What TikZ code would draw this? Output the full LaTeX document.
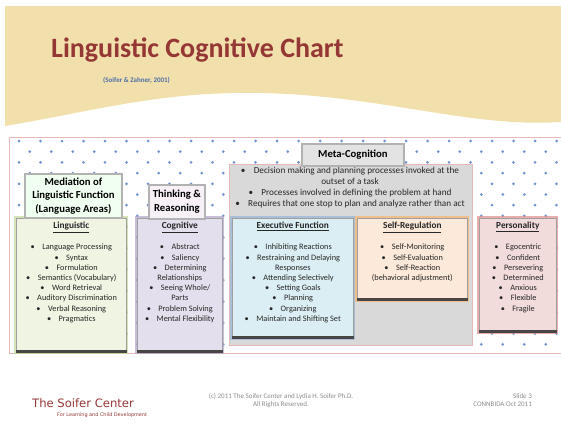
\documentclass[tikz,border=0pt]{standalone}
\usepackage{fontspec}
\setmainfont{Carlito}
\newfontfamily\piedefont{DejaVu Sans}
\usepackage{tikz}

\definecolor{banner}{HTML}{F1E0AC}
\definecolor{titolo}{HTML}{953735}
\definecolor{fonte}{HTML}{4F6EA8}
\definecolor{puntino}{HTML}{7093CF}
\definecolor{cornice}{HTML}{E6B9B8}
\definecolor{grigio}{HTML}{D9D9D9}
\definecolor{verde}{HTML}{F0F4E3}
\definecolor{verdeglow}{HTML}{C3D69B}
\definecolor{viola}{HTML}{E4DFEC}
\definecolor{violaglow}{HTML}{B3A2C7}
\definecolor{azzurro}{HTML}{DBEEF4}
\definecolor{azzurroglow}{HTML}{95B3D7}
\definecolor{pesca}{HTML}{FDE9D9}
\definecolor{pescaglow}{HTML}{F7B36B}
\definecolor{rosa}{HTML}{F2DCDB}
\definecolor{rosaglow}{HTML}{E08C8A}
\definecolor{piede}{HTML}{8C8C8C}

\tikzset{
	box/.style={draw=gray!75, line width=0.6pt, anchor=north west, inner sep=0pt},
	alone/.style={draw=#1, line width=4pt, opacity=0.7},
	etichetta/.style={draw=gray!60, line width=1.8pt, fill=#1, anchor=north west,
		inner sep=0pt, align=center, font=\fontsize{10.7}{13.6}\selectfont\bfseries,
		preaction={draw=gray!90, line width=2.8pt}},
	voci/.style={anchor=north, inner sep=0pt, align=center,
		font=\fontsize{8.3}{10.2}\selectfont, text=black!85},
}
\newcommand{\voce}{\textbullet\hspace{0.9em}}
\newcommand{\titoletto}[1]{{\fontsize{9.3}{10.2}\selectfont\underline{\textbf{#1}}}\\[11pt]}

\begin{document}
\begin{tikzpicture}[x=1pt, y=-1pt]
	\useasboundingbox[fill=white] (0,0) rectangle (561,423);
	% fascia in alto
	\fill[banner] (5,6) -- (561,6) -- (561,122)
		.. controls (470,128) and (380,95) .. (260,93)
		.. controls (160,91) and (90,112) .. (5,126) -- cycle;
	\node[anchor=base west, inner sep=0pt, text=titolo, font=\fontsize{28}{28}\selectfont\bfseries]
		(titolo) at (51,57) {Linguistic Cognitive Chart};
	\node[anchor=base west, inner sep=0pt, text=fonte, font=\fontsize{7}{7}\selectfont\bfseries]
		(fonte) at (103,82) {(Soifer \& Zahner, 2001)};
	% cornice a puntini
	\begin{scope}
		\clip (9,137) rectangle (561,353);
		\foreach \r in {0,...,20}
			\foreach \c in {0,...,26}
				\fill[puntino] ({19+21.5*\c+mod(\r,2)*10.75}, {141+10.7*\r}) circle [radius=1.5];
	\end{scope}
	\draw[cornice, line width=1pt] (561,137) -- (9,137) -- (9,353) -- (561,353);
	% meta-cognizione
	\node[box, draw=cornice, fill=grigio, minimum width=243, minimum height=181] (meta) at (228.5,164) {};
	\node[voci, font=\fontsize{9.2}{11.1}\selectfont] (metatesto) at (350,166.5) {%
		\voce Decision making and planning processes invoked at the\\
		outset of a task\\
		\voce Processes involved in defining the problem at hand\\
		\voce Requires that one stop to plan and analyze rather than act};
	\node[etichetta=gray!22, minimum width=102, minimum height=22] (metalab) at (301,143) {Meta-Cognition};
	% riquadri
	\node[box, fill=verde, minimum width=110, minimum height=134,
		preaction={alone=verdeglow}] (linguistic) at (16,218) {};
	\node[box, fill=viola, minimum width=85, minimum height=134,
		preaction={alone=violaglow}] (cognitive) at (137,218) {};
	\node[box, fill=azzurro, minimum width=121, minimum height=120,
		preaction={alone=azzurroglow}] (executive) at (232,218) {};
	\node[box, fill=pesca, minimum width=110, minimum height=82,
		preaction={alone=pescaglow}] (selfreg) at (357,218) {};
	\node[box, fill=rosa, minimum width=77, minimum height=114,
		preaction={alone=rosaglow}] (personality) at (479,218) {};
	% bordo scuro in basso
	\foreach \b in {linguistic, cognitive, executive, selfreg, personality}
		\fill[gray!55!black] ([yshift=3pt]\b.south west) rectangle (\b.south east);
	% etichette
	\node[etichetta=green!6!white, minimum width=97, minimum height=44] (mediation) at (24,173)
		{Mediation of\\ Linguistic Function\\ (Language Areas)};
	\node[etichetta=violet!6!white, minimum width=56, minimum height=34] (thinking) at (148,184)
		{Thinking \&\\ Reasoning};
	% testi
	\node[voci] (lingtesto) at ([yshift=-4pt]linguistic.north) {\titoletto{Linguistic}
		\voce Language Processing\\ \voce Syntax\\ \voce Formulation\\
		\voce Semantics (Vocabulary)\\ \voce Word Retrieval\\ \voce Auditory Discrimination\\
		\voce Verbal Reasoning\\ \voce Pragmatics};
	\node[voci] (cogtesto) at ([yshift=-4pt]cognitive.north) {\titoletto{Cognitive}
		\voce Abstract\\ \voce Saliency\\ \voce Determining\\ Relationships\\
		\voce Seeing Whole/\\ Parts\\ \voce Problem Solving\\ \voce Mental Flexibility};
	\node[voci] (exectesto) at ([yshift=-4pt]executive.north) {\titoletto{Executive Function}
		\voce Inhibiting Reactions\\ \voce Restraining and Delaying\\ Responses\\
		\voce Attending Selectively\\ \voce Setting Goals\\ \voce Planning\\
		\voce Organizing\\ \voce Maintain and Shifting Set};
	\node[voci] (selftesto) at ([yshift=-4pt]selfreg.north) {\titoletto{Self-Regulation}
		\voce Self-Monitoring\\ \voce Self-Evaluation\\ \voce Self-Reaction\\
		(behavioral adjustment)};
	\node[voci] (perstesto) at ([yshift=-4pt]personality.north) {\titoletto{Personality}
		\voce Egocentric\\ \voce Confident\\ \voce Persevering\\ \voce Determined\\
		\voce Anxious\\ \voce Flexible\\ \voce Fragile};
	% pie di pagina
	\node[anchor=base west, inner sep=0pt, text=titolo, font=\piedefont\fontsize{11.6}{12}\selectfont]
		(centro) at (32,407) {The Soifer Center};
	\node[anchor=base west, inner sep=0pt, text=titolo, font=\piedefont\fontsize{4.9}{5}\selectfont]
		(motto) at (57,416.5) {For Learning and Child Development};
	\node[anchor=base, inner sep=0pt, align=center, text=piede, font=\fontsize{7}{8.2}\selectfont]
		(diritti) at (281,406.5) {(c) 2011 The Soifer Center and Lydia H. Soifer Ph.D.\\ All Rights Reserved.};
	\node[anchor=base east, inner sep=0pt, align=right, text=piede, font=\fontsize{7}{8.2}\selectfont]
		(slide) at (532,406.5) {Slide 3\\ CONNBIDA Oct 2011};
\end{tikzpicture}
\end{document}
